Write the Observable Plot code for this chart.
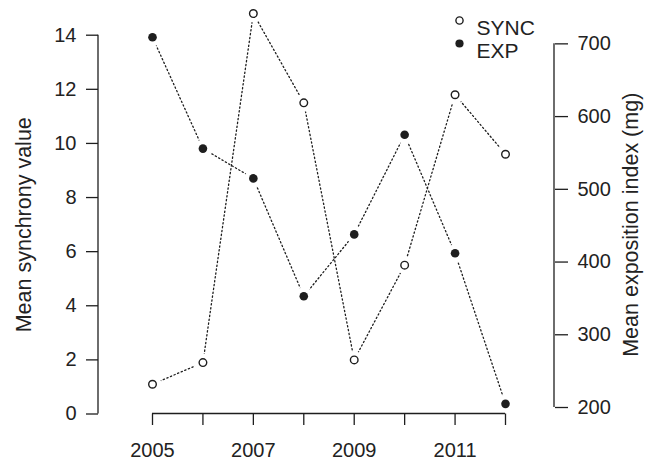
<!DOCTYPE html>
<html><head><meta charset="utf-8">
<script src="https://cdn.jsdelivr.net/npm/d3@7"></script>
<script src="https://cdn.jsdelivr.net/npm/@observablehq/plot@0.6"></script>
<style>body{margin:0;background:#fff}</style>
</head><body><div id="chart"></div>
<script>
const years = [2005, 2006, 2007, 2008, 2009, 2010, 2011, 2012];
const syncValues = [1.1, 1.9, 14.8, 11.5, 2.0, 5.5, 11.8, 9.6];
const expValues = [709, 556, 515, 353, 438, 575, 412, 205];
const xTickLabels = ["2005", "", "2007", "", "2009", "", "2011", ""];
const syncTicks = [0, 2, 4, 6, 8, 10, 12, 14];
const expTicks = [200, 300, 400, 500, 600, 700];
const seriesNames = ["SYNC", "EXP"];
const yTitleLeft = "Mean synchrony value";
const yTitleRight = "Mean exposition index (mg)";

const W = 646, H = 465;
const ink = "#1e1e1e";
// right (EXP) axis expressed in left-axis units
const expToSync = d3.scaleLinear().domain([200, 700]).range([0.24, 13.68]);

const syncData = years.map((year, i) => ({year, value: syncValues[i]}));
const expData = years.map((year, i) => ({year, value: expToSync(expValues[i])}));
const allPts = syncData.concat(expData);

function axisLines(index, scales, values, dims) {
  const g = d3.create("svg:g").attr("stroke", ink).attr("stroke-width", 1.3).attr("fill", "none");
  const xl = dims.marginLeft, xr = dims.width - dims.marginRight, yb = dims.height - dims.marginBottom;
  g.append("line").attr("x1", xl).attr("x2", xl)
    .attr("y1", scales.y(syncTicks[0])).attr("y2", scales.y(syncTicks[syncTicks.length - 1]));
  g.append("line").attr("x1", xr).attr("x2", xr)
    .attr("y1", scales.y(expToSync(expTicks[0]))).attr("y2", scales.y(expToSync(expTicks[expTicks.length - 1])));
  g.append("line").attr("x1", scales.x(years[0])).attr("x2", scales.x(years[years.length - 1]))
    .attr("y1", yb).attr("y2", yb);
  return g.node();
}

const dash = {stroke: ink, strokeWidth: 1.3, strokeDasharray: "1.3,2.6"};
const chart = Plot.plot({
  width: W, height: H,
  marginLeft: 98, marginRight: 92, marginTop: 35, marginBottom: 51.5,
  x: {domain: [years[0], years[years.length - 1]], range: [152, 505]},
  y: {domain: [syncTicks[0], syncTicks[syncTicks.length - 1]], range: [413.5, 34.7]},
  style: {fontFamily: "'Liberation Sans', Arial, Helvetica, sans-serif", fontSize: "20px", color: "#222", background: "#fff", overflow: "visible"},
  marks: [
    Plot.line(syncData, {x: "year", y: "value", ...dash}),
    Plot.line(expData, {x: "year", y: "value", ...dash}),
    Plot.dot(allPts, {x: "year", y: "value", r: 9, fill: "#fff", stroke: null}),
    axisLines,
    Plot.axisX(years, {anchor: "bottom", tickSize: 11.5, tickPadding: 17, stroke: ink, strokeWidth: 1.3,
      tickFormat: d => xTickLabels[years.indexOf(d)], fontSize: 20, label: null}),
    Plot.axisY(syncTicks, {anchor: "left", tickSize: 12, tickPadding: 10, stroke: ink, strokeWidth: 1.3,
      fontSize: 20, label: null}),
    Plot.axisY(expTicks.map(d => expToSync(d)), {anchor: "right", tickSize: 13, tickPadding: 10, stroke: ink, strokeWidth: 1.3,
      tickFormat: d => Math.round(expToSync.invert(d)), fontSize: 20, label: null}),
    Plot.dot(syncData, {x: "year", y: "value", r: 3.8, fill: "#fff", stroke: ink, strokeWidth: 1.4}),
    Plot.dot(expData, {x: "year", y: "value", r: 4.3, fill: ink, stroke: null}),
    Plot.text([yTitleLeft], {frameAnchor: "left", textAnchor: "middle", rotate: -90, dx: -74.5, fontSize: 21.5, fill: "#222"}),
    Plot.text([yTitleRight], {frameAnchor: "right", textAnchor: "middle", rotate: -90, dx: 77, fontSize: 21.5, fill: "#222"}),
    Plot.dot([seriesNames[0]], {frameAnchor: "top-right", dx: -95, dy: -15, r: 3.6, fill: "#fff", stroke: ink, strokeWidth: 1.4}),
    Plot.dot([seriesNames[1]], {frameAnchor: "top-right", dx: -95, dy: 8, r: 4.1, fill: ink, stroke: null}),
    Plot.text([seriesNames[0]], {frameAnchor: "top-right", dx: -78, dy: -15, textAnchor: "start", fontSize: 21, fill: "#222"}),
    Plot.text([seriesNames[1]], {frameAnchor: "top-right", dx: -78, dy: 8, textAnchor: "start", fontSize: 21, fill: "#222"})
  ]
});
document.getElementById("chart").appendChild(chart);
</script>
</body></html>
